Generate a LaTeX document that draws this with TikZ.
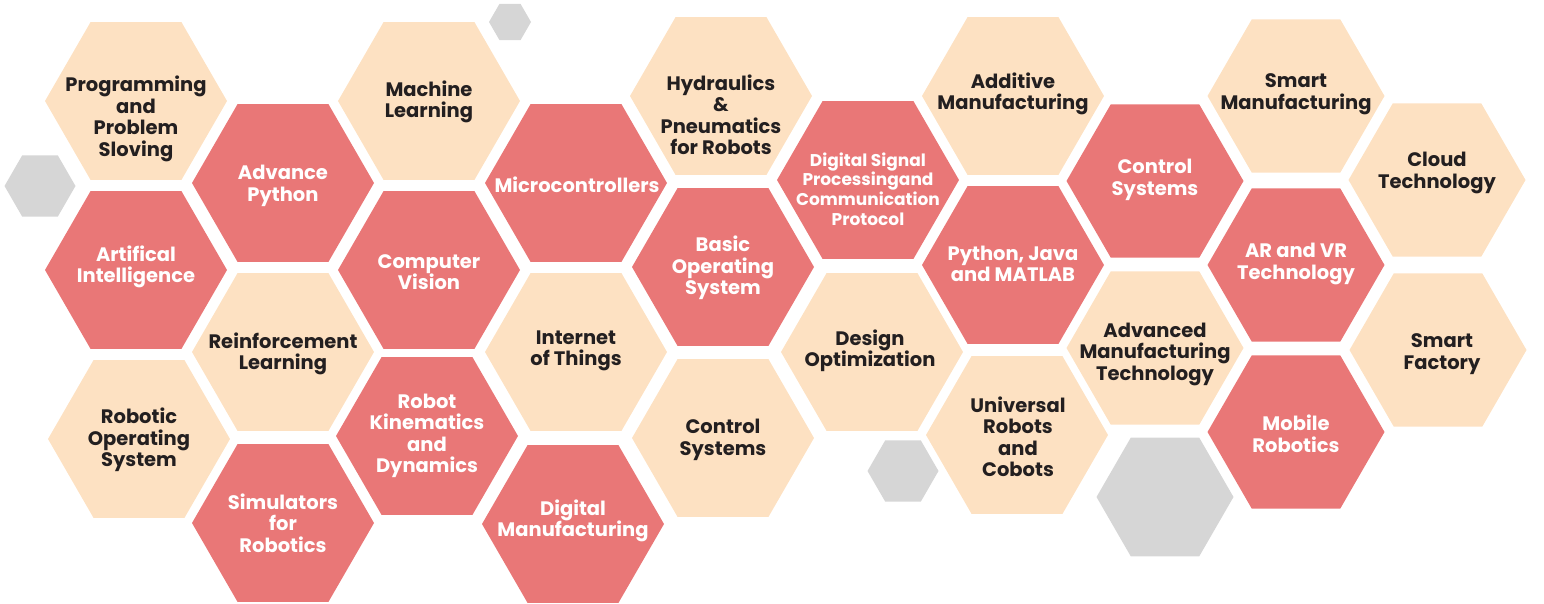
\documentclass[tikz,border=0pt]{standalone}
\usepackage{fontspec}
\setmainfont{Poppins}
\usetikzlibrary{shapes.geometric}
\definecolor{peach}{HTML}{FDE1C2}
\definecolor{rose}{HTML}{E97777}
\definecolor{hexgray}{HTML}{D6D6D6}
\definecolor{ink}{HTML}{231F20}
\begin{document}
\begin{tikzpicture}[x=1pt, y=-1pt,
    hex/.style={regular polygon, regular polygon sides=6, minimum size=182pt, inner sep=0pt},
    hexp/.style={hex, fill=peach},
    hexr/.style={hex, fill=rose},
    hexg/.style={hex, fill=hexgray},
    narrow/.style={minimum size=177pt},
    txt/.style={align=center, yshift=-2pt, font=\fontsize{19.5}{21.5}\selectfont\bfseries},
    dtxt/.style={txt, text=ink},
    wtxt/.style={txt, text=white}]
    \useasboundingbox (0,0) rectangle (1544,604);
    %gray cells
    \node[hexg, minimum size=71pt] (g1) at (40,186) {};
    \node[hexg, minimum size=42pt] (g2) at (510,22) {};
    \node[hexg, minimum size=71pt] (g3) at (903,471) {};
    \node[hexg, minimum size=137pt] (g4) at (1165,497) {};
    %cells
    \node[hexp] (prog) at (136,101) {};
    \node[hexr] (ai) at (136,270) {};
    \node[hexp] (ros) at (139,439) {};
    \node[hexr] (advpy) at (283,183) {};
    \node[hexp] (rl) at (283,352) {};
    \node[hexr] (sim) at (283,523) {};
    \node[hexp] (ml) at (429,101) {};
    \node[hexr] (cv) at (429,270) {};
    \node[hexr] (rkd) at (427,436) {};
    \node[hexr] (micro) at (576,183) {};
    \node[hexp] (iot) at (576,352) {};
    \node[hexr] (dm) at (573,524) {};
    \node[hexp] (hyd) at (721,96) {};
    \node[hexr] (bos) at (723,267) {};
    \node[hexp] (cs1) at (723,438) {};
    \node[hexr] (dsp) at (868,180) {};
    \node[hexp] (dopt) at (872,352) {};
    \node[hexp] (am) at (1013,96) {};
    \node[hexr] (pjm) at (1013,265) {};
    \node[hexp] (urc) at (1017,435) {};
    \node[hexr, narrow] (cs2) at (1155,181) {};
    \node[hexp, narrow] (amt) at (1155,348) {};
    \node[hexp, narrow] (sm) at (1296,96) {};
    \node[hexr, narrow] (arvr) at (1296,265) {};
    \node[hexr, narrow] (mr) at (1296,432) {};
    \node[hexp, narrow] (ct) at (1437,180) {};
    \node[hexp, narrow] (sf) at (1438,350) {};
    %labels
    \node[dtxt] (prog-t) at (136,117) {Programming\\and\\Problem\\Sloving};
    \node[wtxt] (ai-t) at (136,265) {Artifical\\Intelligence};
    \node[dtxt] (ros-t) at (139,438) {Robotic\\Operating\\System};
    \node[wtxt] (advpy-t) at (283,184) {Advance\\Python};
    \node[dtxt] (rl-t) at (283,352) {Reinforcement\\Learning};
    \node[wtxt] (sim-t) at (283,521) {Simulators\\for\\Robotics};
    \node[dtxt] (ml-t) at (429,100) {Machine\\Learning};
    \node[wtxt] (cv-t) at (429,270) {Computer\\Vision};
    \node[wtxt] (rkd-t) at (427,434) {Robot\\Kinematics\\and\\Dynamics};
    \node[wtxt] (micro-t) at (577,183) {Microcontrollers};
    \node[dtxt] (iot-t) at (576,349) {Internet\\of Things};
    \node[wtxt] (dm-t) at (573,519) {Digital\\Manufacturing};
    \node[dtxt] (hyd-t) at (721,113) {Hydraulics\\\&\\Pneumatics\\for Robots};
    \node[wtxt] (bos-t) at (723,266) {Basic\\Operating\\System};
    \node[dtxt] (cs1-t) at (723,438) {Control\\Systems};
    \node[wtxt, font=\fontsize{17}{19.7}\selectfont\bfseries] (dsp-t) at (868,187) {Digital Signal\\Processingand\\Communication\\Protocol};
    \node[dtxt] (dopt-t) at (870,349) {Design\\Optimization};
    \node[dtxt] (am-t) at (1013,92) {Additive\\Manufacturing};
    \node[wtxt] (pjm-t) at (1013,262) {Python, Java\\and MATLAB};
    \node[dtxt] (urc-t) at (1018,435) {Universal\\Robots\\and\\Cobots};
    \node[wtxt] (cs2-t) at (1155,178) {Control\\Systems};
    \node[dtxt] (amt-t) at (1155,352) {Advanced\\Manufacturing\\Technology};
    \node[dtxt] (sm-t) at (1296,92) {Smart\\Manufacturing};
    \node[wtxt] (arvr-t) at (1296,262) {AR and VR\\Technology};
    \node[wtxt] (mr-t) at (1296,432) {Mobile\\Robotics};
    \node[dtxt] (ct-t) at (1437,171) {Cloud\\Technology};
    \node[dtxt] (sf-t) at (1442,352) {Smart\\Factory};
\end{tikzpicture}
\end{document}
